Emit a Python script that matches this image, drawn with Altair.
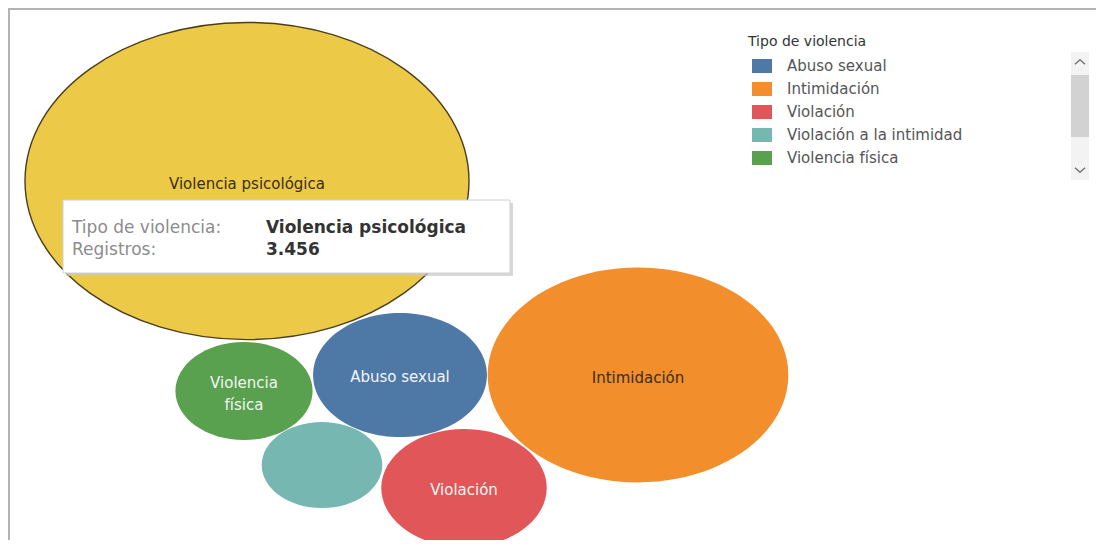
import altair as alt
import pandas as pd

# ---------------- data ----------------
tipos = ["Violencia psicológica", "Intimidación", "Abuso sexual", "Violación",
         "Violencia física", "Violación a la intimidad"]
registros = [3456, 1585, 530, 480, 330, 255]
# bubble centres of the packed-bubble layout (layout units)
layout_x = [247, 638, 400, 464, 244, 322]
layout_y = [181, 375, 375, 488, 391, 465]
bubble_labels = ["Violencia psicológica", "Intimidación", "Abuso sexual", "Violación",
                 "Violencia\nfísica", ""]
legend_order = ["Abuso sexual", "Intimidación", "Violación", "Violación a la intimidad",
                "Violencia física", "Violencia psicológica"]
palette = ["#4e79a7", "#f28e2b", "#e15759", "#76b7b2", "#59a14f", "#edc948"]
dark_label_tipos = ["Violencia psicológica", "Intimidación"]
selected = "Violencia psicológica"
tooltip_fields = ["Tipo de violencia:", "Registros:"]

df = pd.DataFrame({
    "tipo": tipos,
    "registros": registros,
    "lx": layout_x,
    "ly": layout_y,
    "label": bubble_labels,
})

sel_value = registros[tipos.index(selected)]
sel_value_txt = f"{sel_value:,}".replace(",", ".")

W, H = 1088, 532
FONT = "DejaVu Sans"

# horizontally stretched ellipse (ratio 1.4), unit half-width
ELLIPSE = ("M1,0 C1,0.3944 0.5523,0.7143 0,0.7143 C-0.5523,0.7143 -1,0.3944 -1,0 "
           "C-1,-0.3944 -0.5523,-0.7143 0,-0.7143 C0.5523,-0.7143 1,-0.3944 1,0 Z")
RECT_SYM = "M-1,-0.7 L1,-0.7 L1,0.7 L-1,0.7 Z"

xenc = alt.X("lx:Q", scale=alt.Scale(domain=[8, 8 + W], nice=False, zero=False), axis=None)
yenc = alt.Y("ly:Q", scale=alt.Scale(domain=[8, 8 + H], reverse=True, nice=False, zero=False),
             axis=None)
senc = alt.Size("registros:Q",
                scale=alt.Scale(type="linear", domain=[0, 3456], range=[0, 444 ** 2], zero=True),
                legend=None)

base = alt.Chart(df)

bubbles = base.mark_point(shape=ELLIPSE, filled=True, opacity=1, strokeWidth=0).encode(
    x=xenc, y=yenc, size=senc,
    color=alt.Color("tipo:N",
                    scale=alt.Scale(domain=legend_order, range=palette),
                    legend=alt.Legend(
                        title="Tipo de violencia", orient="none", legendX=740, legendY=27,
                        values=legend_order[:5], symbolType=RECT_SYM, symbolSize=400,
                        symbolStrokeWidth=0, symbolOpacity=1, symbolOffset=4,
                        labelFont=FONT, labelFontSize=15, labelColor="#555555",
                        labelLimit=320, labelOffset=15,
                        titleFont=FONT, titleFontSize=14, titleFontWeight="normal",
                        titleColor="#333333", titlePadding=7, rowPadding=5)),
)

outline = base.transform_filter(alt.datum.tipo == selected).mark_point(
    shape=ELLIPSE, filled=False, opacity=1, strokeWidth=1.4, color="#4a3f1c"
).encode(x=xenc, y=yenc, size=senc)

is_multi = "indexof(datum.label, '\\n') >= 0"
is_dark = alt.FieldOneOfPredicate(field="tipo", oneOf=dark_label_tipos)

dark_labels = base.transform_filter(is_dark).mark_text(
    font=FONT, fontSize=15, color="#3a2f17", baseline="middle", dy=3
).encode(x=xenc, y=yenc, text="label:N")

light_labels = base.transform_filter(~is_dark).transform_filter(
    "!(" + is_multi + ")"
).mark_text(font=FONT, fontSize=15, color="#f4f4f4", baseline="middle", dy=2
            ).encode(x=xenc, y=yenc, text="label:N")

multi_labels = base.transform_filter(is_multi).mark_text(
    font=FONT, fontSize=15, color="#f4f4f4", baseline="middle",
    lineBreak="\n", lineHeight=22, dy=-8
).encode(x=xenc, y=yenc, text="label:N")

one = alt.Chart(pd.DataFrame({"k": [0]}))

# frame (top and left edges of the dashboard container)
frame_left = one.mark_rule(color="#b3b3b3", strokeWidth=2).encode(
    x=alt.value(1), y=alt.value(0), y2=alt.value(H))
frame_top = one.mark_rule(color="#b3b3b3", strokeWidth=2).encode(
    x=alt.value(0), x2=alt.value(W), y=alt.value(1))

# legend scrollbar
track = one.mark_rect(color="#f3f3f3").encode(
    x=alt.value(1063), x2=alt.value(1081), y=alt.value(44), y2=alt.value(172))
thumb = one.mark_rect(color="#d2d2d2").encode(
    x=alt.value(1063), x2=alt.value(1081), y=alt.value(67), y2=alt.value(129))
chev_up = one.mark_point(shape="M-1,0.45 L0,-0.45 L1,0.45", filled=False, size=100,
                         strokeWidth=1.5, color="#777777", opacity=1).encode(
    x=alt.value(1072), y=alt.value(54))
chev_dn = one.mark_point(shape="M-1,-0.45 L0,0.45 L1,-0.45", filled=False, size=100,
                         strokeWidth=1.5, color="#777777", opacity=1).encode(
    x=alt.value(1072), y=alt.value(162))

# tooltip box
tip_shadow = one.mark_rect(color="#c8c8c8", opacity=0.7).encode(
    x=alt.value(58), x2=alt.value(505), y=alt.value(195), y2=alt.value(268))
tip_box = one.mark_rect(fill="white", stroke="#d0d0d0", strokeWidth=1).encode(
    x=alt.value(55), x2=alt.value(502), y=alt.value(192), y2=alt.value(265))

tip_k1 = one.mark_text(text=tooltip_fields[0], font=FONT, fontSize=17, color="#8c8c8c",
                       align="left", baseline="middle").encode(x=alt.value(64), y=alt.value(220))
tip_k2 = one.mark_text(text=tooltip_fields[1], font=FONT, fontSize=17, color="#8c8c8c",
                       align="left", baseline="middle").encode(x=alt.value(64), y=alt.value(242))
tip_v1 = one.mark_text(text=selected, font=FONT, fontSize=17, fontWeight="bold",
                       color="#333333", align="left", baseline="middle").encode(
    x=alt.value(258), y=alt.value(220))
tip_v2 = one.mark_text(text=sel_value_txt, font=FONT, fontSize=17, fontWeight="bold",
                       color="#333333", align="left", baseline="middle").encode(
    x=alt.value(258), y=alt.value(242))

chart = alt.layer(
    frame_left, frame_top, bubbles, outline, dark_labels, light_labels, multi_labels,
    track, thumb, chev_up, chev_dn,
    tip_shadow, tip_box, tip_k1, tip_k2, tip_v1, tip_v2,
).properties(
    width=W, height=H,
    autosize=alt.AutoSizeParams(type="none"),
    padding=0,
    background="white",
).configure_view(stroke=None)

chart.save("out.html", embed_options={"renderer": "svg", "actions": False})
